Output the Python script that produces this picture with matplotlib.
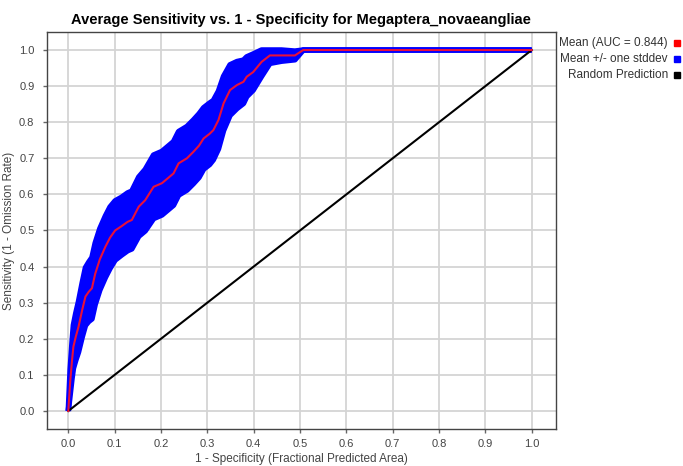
import numpy as np
import matplotlib
matplotlib.use('Agg')
import matplotlib.pyplot as plt
from matplotlib.patches import Rectangle

# mean ROC curve (1 - specificity, sensitivity)
fpr = [0.0, 0.004, 0.008, 0.011, 0.016, 0.022, 0.03, 0.037, 0.044, 0.051, 0.058,
       0.068, 0.080, 0.090, 0.101, 0.115, 0.128, 0.137, 0.152, 0.166, 0.184,
       0.202, 0.215, 0.227, 0.238, 0.256, 0.270, 0.282, 0.292, 0.305, 0.313,
       0.324, 0.335, 0.349, 0.364, 0.378, 0.385, 0.399, 0.417, 0.435, 0.46,
       0.489, 0.507, 0.6, 0.8, 1.0]
mean_tpr = [0.0, 0.08, 0.14, 0.178, 0.205, 0.233, 0.28, 0.317, 0.33, 0.34, 0.38,
            0.42, 0.455, 0.48, 0.50, 0.512, 0.524, 0.529, 0.566, 0.584, 0.621,
            0.631, 0.645, 0.658, 0.686, 0.700, 0.718, 0.735, 0.755, 0.768, 0.778,
            0.806, 0.852, 0.889, 0.903, 0.912, 0.926, 0.939, 0.967, 0.985, 0.985,
            0.985, 1.0, 1.0, 1.0, 1.0]
sd_tpr = [0.0, 0.035, 0.05, 0.06, 0.065, 0.07, 0.075, 0.08, 0.082, 0.085, 0.085,
          0.085, 0.085, 0.085, 0.082, 0.08, 0.08, 0.08, 0.082, 0.085, 0.088,
          0.088, 0.088, 0.088, 0.088, 0.088, 0.088, 0.088, 0.085, 0.085, 0.082,
          0.08, 0.075, 0.07, 0.065, 0.06, 0.055, 0.05, 0.04, 0.022, 0.016,
          0.012, 0.0, 0.0, 0.0, 0.0]
rand_x = [0.0, 1.0]
rand_y = [0.0, 1.0]

legend_labels = ['Mean (AUC = 0.844)', 'Mean +/- one stddev', 'Random Prediction']
legend_colors = ['#ff0000', '#0000ff', '#000000']

plt.rcParams['font.family'] = ['Liberation Sans', 'DejaVu Sans']

fig = plt.figure(figsize=(6.83, 4.66), dpi=100)
ax = fig.add_axes([0.0688, 0.0794, 0.745, 0.852])

x = np.array(fpr)
m = np.array(mean_tpr)
s = np.array(sd_tpr)
lo = m - s
hi = np.minimum(m + s, 1.0)

ax.fill_between(x, lo, hi, color='#0000ff', lw=0, zorder=2)
ax.plot(x, hi, color='#0000ff', lw=4, solid_capstyle='butt', zorder=2)
ax.plot(x, lo, color='#0000ff', lw=4, solid_capstyle='butt', zorder=2)
ax.plot(x, m, color='#e8103a', lw=1.5, zorder=4)
ax.plot(rand_x, rand_y, color='#000000', lw=1.5, zorder=3)

ax.set_xlim(-0.046, 1.052)
ax.set_ylim(-0.05, 1.05)
ticks = np.arange(0, 1.01, 0.1)
ax.set_xticks(ticks)
ax.set_yticks(ticks)
ax.set_xticklabels(['%.1f' % v for v in ticks])
ax.set_yticklabels(['%.1f' % v for v in ticks])
ax.grid(True, color='#d4d4d4', lw=1.3)
ax.set_axisbelow(True)
ax.tick_params(direction='out', length=3, width=1, color='#666666',
               labelsize=8, labelcolor='#444444', pad=4)
ax.tick_params(axis='y', pad=6)
for sp in ax.spines.values():
    sp.set_color('#444444')
    sp.set_linewidth(1)

ax.set_title('Average Sensitivity vs. 1 - Specificity for Megaptera_novaeangliae',
             fontsize=10.5, fontweight='bold', pad=6)
ax.set_xlabel('1 - Specificity (Fractional Predicted Area)', fontsize=8.5,
              color='#444444', labelpad=3)
ax.set_ylabel('Sensitivity (1 - Omission Rate)', fontsize=8.5, color='#444444')
ax.yaxis.set_label_coords(-0.062, 0.5)

# legend at the right
ys = [43, 59, 75]
for lab, col, yy in zip(legend_labels, legend_colors, ys):
    fig.text(668 / 683, 1 - yy / 466, lab, ha='right', va='center', fontsize=8.5, color='#333333')
    fig.patches.append(Rectangle((674 / 683, 1 - (yy + 3) / 466), 6 / 683, 6 / 466,
                                 transform=fig.transFigure, color=col, figure=fig))

fig.savefig('out.png', dpi=100)
